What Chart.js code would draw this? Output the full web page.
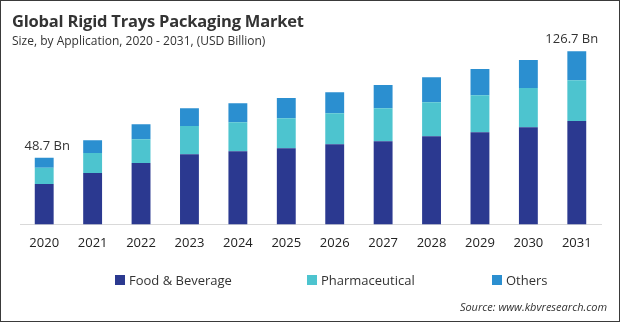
<!DOCTYPE html>
<html>
<head>
<meta charset="utf-8">
<script src="https://cdn.jsdelivr.net/npm/chart.js@4.4.1/dist/chart.umd.min.js"></script>
<style>
  html, body { margin: 0; padding: 0; background: #fff; }
  #wrap { position: relative; width: 620px; height: 322px; box-sizing: border-box; border: 1px solid #3a3a3a; overflow: hidden; font-family: "Open Sans", sans-serif; }
  #wrap canvas { position: absolute; left: 0; top: 0; }
  .title { position: absolute; left: 11px; top: 8px; font-size: 16.5px; font-weight: bold; color: #333; letter-spacing: -0.2px; }
  .sub { position: absolute; left: 11px; top: 31px; font-size: 12px; color: #333; }
  .legend { position: absolute; top: 270px; font-size: 13px; color: #333; display: flex; align-items: center; }
  .legend i { display: inline-block; width: 10px; height: 10px; margin-right: 4px; }
  .source { position: absolute; right: 12px; top: 298px; font-size: 11px; font-style: italic; color: #333; }
</style>
</head>
<body>
<div id="wrap">
  <canvas id="bar" width="618" height="320"></canvas>
  <div class="title">Global Rigid Trays Packaging Market</div>
  <div class="sub">Size, by Application, 2020 - 2031, (USD Billion)</div>
  <div class="legend" style="left:114px"><i style="background:#2b3990"></i>Food &amp; Beverage</div>
  <div class="legend" style="left:306px"><i style="background:#4dc4cf"></i>Pharmaceutical</div>
  <div class="legend" style="left:491px"><i style="background:#2b8fd0"></i>Others</div>
  <div class="source">Source: www.kbvresearch.com</div>
</div>
<script>
const years = ["2020", "2021", "2022", "2023", "2024", "2025", "2026", "2027", "2028", "2029", "2030", "2031"];
const foodBeverage = [29.6, 37.6, 44.9, 51.3, 53.5, 55.7, 58.6, 60.8, 64.5, 67.4, 71.1, 75.6];
const pharmaceutical = [11.8, 14.7, 17.4, 20.7, 21.3, 22.0, 22.7, 24.2, 24.9, 27.1, 28.6, 29.8];
const others = [7.3, 9.3, 11.0, 13.0, 13.9, 14.7, 15.4, 16.9, 18.3, 19.1, 20.5, 21.3];
const totalLabels = { 0: "48.7 Bn", 11: "126.7 Bn" };

// writes the total above the first and last stack
const totalsPlugin = {
  id: "totals",
  afterDatasetsDraw(chart) {
    const ctx = chart.ctx;
    const top = chart.getDatasetMeta(2).data;
    const last = top.length - 1;
    ctx.save();
    ctx.font = "13px 'Open Sans', sans-serif";
    ctx.fillStyle = "#333";
    ctx.textAlign = "center";
    ctx.textBaseline = "bottom";
    Object.keys(totalLabels).forEach((i) => {
      const bar = top[i];
      const shift = Number(i) === last ? -5 : 3;
      ctx.fillText(totalLabels[i], bar.x + shift, bar.y - 5);
    });
    ctx.restore();
  },
};

new Chart(document.getElementById("bar").getContext("2d"), {
  type: "bar",
  data: {
    labels: years,
    datasets: [
      { label: "Food & Beverage", data: foodBeverage, backgroundColor: "#2b3990" },
      { label: "Pharmaceutical", data: pharmaceutical, backgroundColor: "#4dc4cf" },
      { label: "Others", data: others, backgroundColor: "#2b8fd0" },
    ],
  },
  options: {
    responsive: false,
    animation: false,
    layout: { padding: { left: 19, right: 18, top: 32, bottom: 59 } },
    datasets: { bar: { categoryPercentage: 1, barPercentage: 0.39 } },
    plugins: { legend: { display: false }, tooltip: { enabled: false } },
    scales: {
      x: {
        stacked: true,
        grid: { display: false, drawTicks: false },
        border: { display: true, color: "#d9d9d9", width: 1 },
        ticks: { color: "#222", font: { family: "'Open Sans', sans-serif", size: 13 }, padding: 11 },
      },
      y: { stacked: true, display: false, min: 0, max: 140 },
    },
  },
  plugins: [totalsPlugin],
});
</script>
</body>
</html>
